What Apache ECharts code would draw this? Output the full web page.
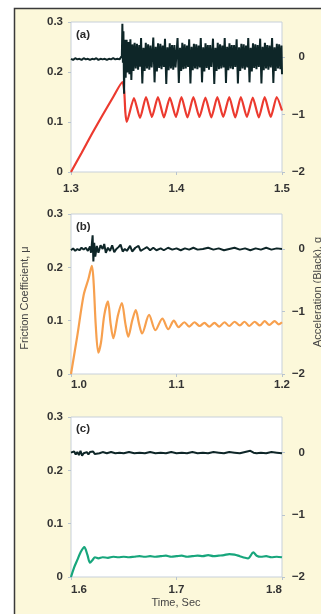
<!DOCTYPE html>
<html><head><meta charset="utf-8">
<script src="https://cdn.jsdelivr.net/npm/echarts@6.0.0/dist/echarts.min.js"></script>
<style>html,body{margin:0;padding:0;background:#fff}#c{width:321px;height:614px}</style>
</head><body><div id="c"></div>
<script>
// ---------- data ----------
const panelLabels = ['(a)', '(b)', '(c)'];
const xRanges = [[1.3, 1.5], [1.0, 1.2], [1.6, 1.8]];
const frictionTicks = [0, 0.1, 0.2, 0.3];
const accelTicks = [-2, -1, 0];
const leftName = 'Friction Coefficient, μ';
const rightName = 'Acceleration (Black), g';
const timeName = 'Time, Sec';

// panel (a) friction (red)
const frictionA = [[1.3,0],[1.31,0.038],[1.32,0.077],[1.33,0.114],[1.34,0.15],[1.3488,0.18],[1.3505,0.16],[1.3515,0.12],[1.3528,0.100],
[1.3597,0.148],[1.3654,0.108],[1.3711,0.150],[1.3767,0.110],[1.3824,0.150],[1.3881,0.109],[1.3937,0.149],[1.3994,0.110],
[1.4047,0.150],[1.4104,0.109],[1.4160,0.150],[1.4217,0.110],[1.4274,0.149],[1.4330,0.109],[1.4387,0.150],[1.4443,0.110],
[1.4500,0.150],[1.4557,0.109],[1.4610,0.150],[1.4667,0.110],[1.4723,0.149],[1.4780,0.109],[1.4836,0.150],[1.4893,0.110],
[1.4950,0.150],[1.5,0.123]];

// panel (a) acceleration (black)
const accelA = [[1.300,-0.03],[1.302,-0.05],[1.304,-0.02],[1.306,-0.04],[1.308,-0.03],[1.310,-0.05],[1.312,-0.02],[1.314,-0.04],
[1.316,-0.03],[1.318,-0.05],[1.320,-0.03],[1.322,-0.04],[1.324,-0.02],[1.326,-0.05],[1.328,-0.03],[1.330,-0.04],[1.332,-0.03],
[1.334,-0.05],[1.336,-0.03],[1.338,-0.04],[1.340,-0.02],[1.342,-0.04],[1.344,-0.03],[1.346,-0.04],[1.3472,-0.03],[1.3482,0.02],
[1.3487,0.58],[1.3492,-0.1],[1.3497,0.45],[1.3503,-0.64],[1.3510,0.3],[1.3518,-0.36],[1.3527,0.3],[1.3536,-0.27],[1.3545,0.26],
[1.3554,-0.3],[1.3563,0.31],[1.3572,-0.4],[1.3582,0.22],[1.3592,-0.24],[1.3603,0.25],[1.3614,-0.2],[1.3625,0.23],[1.3636,-0.22],
[1.3647,0.21],[1.3656,-0.17],
[1.3664,0.33],[1.3676,-0.46],[1.3687,0.16],[1.3698,-0.24],[1.3709,0.25],[1.3720,-0.2],[1.3731,0.22],[1.3742,-0.22],[1.3753,0.2],[1.3764,-0.18],
[1.3780,0.34],[1.3792,-0.44],[1.3803,0.18],[1.3814,-0.25],[1.3825,0.24],[1.3836,-0.19],[1.3847,0.23],[1.3858,-0.21],[1.3869,0.2],[1.3880,-0.17],
[1.3891,0.32],[1.3903,-0.47],[1.3914,0.17],[1.3925,-0.23],[1.3936,0.24],[1.3947,-0.2],[1.3958,0.21],[1.3969,-0.22],[1.3980,0.21],[1.3991,-0.18],
[1.4010,0.33],[1.4022,-0.45],[1.4033,0.16],[1.4044,-0.24],[1.4055,0.25],[1.4066,-0.21],[1.4077,0.22],[1.4088,-0.2],[1.4099,0.2],[1.4110,-0.17],
[1.4120,0.31],[1.4132,-0.46],[1.4143,0.18],[1.4154,-0.23],[1.4165,0.23],[1.4176,-0.2],[1.4187,0.22],[1.4198,-0.21],[1.4209,0.2],[1.4220,-0.18],
[1.4230,0.33],[1.4242,-0.44],[1.4253,0.17],[1.4264,-0.25],[1.4275,0.24],[1.4286,-0.19],[1.4297,0.21],[1.4308,-0.22],[1.4319,0.21],[1.4330,-0.17],
[1.4346,0.32],[1.4358,-0.47],[1.4369,0.16],[1.4380,-0.24],[1.4391,0.25],[1.4402,-0.21],[1.4413,0.22],[1.4424,-0.2],[1.4435,0.2],[1.4446,-0.18],
[1.4457,0.33],[1.4469,-0.45],[1.4480,0.18],[1.4491,-0.23],[1.4502,0.24],[1.4513,-0.2],[1.4524,0.21],[1.4535,-0.21],[1.4546,0.21],[1.4557,-0.17],
[1.4570,0.31],[1.4582,-0.46],[1.4593,0.17],[1.4604,-0.24],[1.4615,0.23],[1.4626,-0.2],[1.4637,0.22],[1.4648,-0.22],[1.4659,0.2],[1.4670,-0.18],
[1.4680,0.33],[1.4692,-0.44],[1.4703,0.16],[1.4714,-0.25],[1.4725,0.24],[1.4736,-0.19],[1.4747,0.22],[1.4758,-0.21],[1.4769,0.21],[1.4780,-0.17],
[1.4793,0.32],[1.4805,-0.46],[1.4816,0.18],[1.4827,-0.23],[1.4838,0.25],[1.4849,-0.2],[1.4860,0.21],[1.4871,-0.22],[1.4882,0.2],[1.4893,-0.18],
[1.4906,0.33],[1.4918,-0.45],[1.4929,0.17],[1.4940,-0.24],[1.4951,0.23],[1.4962,-0.2],[1.4973,0.22],[1.4984,-0.21],[1.4995,0.2],[1.5000,-0.3]];

// panel (b) friction (orange)
const frictionB = [[1.0,0],[1.006,0.072],[1.012,0.148],[1.0165,0.178],[1.0198,0.203],[1.0215,0.17],[1.0235,0.09],[1.0259,0.040],
[1.0285,0.06],[1.0315,0.11],[1.0350,0.136],[1.0375,0.095],[1.0401,0.067],[1.0445,0.11],[1.0482,0.133],[1.0515,0.095],[1.0543,0.070],
[1.0580,0.10],[1.0614,0.120],[1.0645,0.094],[1.0674,0.076],[1.0740,0.111],[1.0800,0.082],[1.0866,0.104],[1.0922,0.084],[1.0975,0.100],
[1.1020,0.088],[1.1075,0.097],[1.1120,0.089],[1.1170,0.097],[1.1220,0.090],[1.1265,0.096],[1.1310,0.089],[1.1360,0.096],[1.1405,0.089],
[1.1455,0.097],[1.1500,0.090],[1.1550,0.098],[1.1600,0.091],[1.1645,0.098],[1.1690,0.090],[1.1740,0.098],[1.1790,0.091],[1.1835,0.099],
[1.1880,0.092],[1.1930,0.099],[1.1970,0.093],[1.2,0.097]];

// panel (b) acceleration (black)
const accelB = [[1.0,-0.02],[1.002,0.01],[1.004,-0.03],[1.006,0.0],[1.008,-0.02],[1.010,0.02],[1.012,-0.01],[1.014,0.02],[1.016,-0.03],
[1.018,0.04],[1.019,-0.06],[1.0205,0.22],[1.0212,-0.2],[1.022,0.1],[1.023,-0.12],[1.0245,0.05],[1.026,-0.06],[1.028,0.06],[1.030,0.0],
[1.0315,0.08],[1.033,-0.06],[1.035,0.02],[1.037,-0.03],[1.039,0.06],[1.041,-0.05],[1.043,0.0],[1.045,0.03],[1.047,0.07],[1.049,-0.04],
[1.051,0.0],[1.053,-0.03],[1.056,0.05],[1.058,-0.04],[1.061,0.02],[1.064,0.05],[1.066,-0.03],[1.069,0.0],[1.072,0.03],[1.075,-0.02],
[1.078,0.02],[1.081,-0.02],[1.085,0.01],[1.088,-0.02],[1.092,0.02],[1.096,-0.01],[1.100,0.01],[1.104,-0.02],[1.108,0.01],[1.112,-0.01],
[1.116,0.02],[1.120,-0.01],[1.125,0.0],[1.13,0.02],[1.135,-0.01],[1.14,0.01],[1.145,-0.02],[1.15,0.0],[1.155,0.02],[1.16,-0.01],
[1.165,0.01],[1.17,-0.02],[1.175,0.01],[1.18,-0.01],[1.185,0.02],[1.19,-0.01],[1.195,0.01],[1.2,0.0]];

// panel (c) friction (green)
const frictionC = [[1.6,0],[1.603,0.018],[1.606,0.032],[1.609,0.046],[1.6126,0.056],[1.6155,0.042],[1.618,0.027],[1.6205,0.032],
[1.6227,0.037],[1.626,0.035],[1.63,0.037],[1.635,0.036],[1.64,0.038],[1.645,0.037],[1.65,0.038],[1.655,0.037],[1.66,0.038],
[1.665,0.039],[1.67,0.038],[1.675,0.039],[1.68,0.038],[1.685,0.039],[1.69,0.040],[1.695,0.038],[1.70,0.039],[1.705,0.040],
[1.71,0.038],[1.715,0.039],[1.72,0.040],[1.725,0.039],[1.73,0.041],[1.735,0.039],[1.74,0.040],[1.745,0.041],[1.75,0.043],
[1.755,0.042],[1.76,0.039],[1.765,0.036],[1.768,0.035],[1.7728,0.046],[1.776,0.040],[1.78,0.038],[1.785,0.039],[1.79,0.037],
[1.795,0.038],[1.8,0.037]];

// panel (c) acceleration (black)
const accelC = [[1.600,0.0],[1.6015,-0.02],[1.603,0.02],[1.6045,-0.03],[1.606,0.01],[1.6075,-0.04],[1.609,0.03],[1.6105,-0.05],
[1.612,-0.01],[1.6135,-0.04],[1.615,0.01],[1.6165,-0.03],[1.618,0.01],[1.6195,-0.02],[1.621,0.02],[1.6225,-0.02],[1.624,0.01],
[1.627,-0.01],[1.630,0.01],[1.634,-0.01],[1.638,0.01],[1.642,-0.01],[1.646,0.0],[1.650,-0.01],[1.655,0.01],[1.660,-0.01],
[1.665,0.0],[1.670,-0.01],[1.675,0.01],[1.680,-0.01],[1.685,0.0],[1.690,-0.01],[1.695,0.01],[1.700,-0.01],[1.705,0.0],
[1.710,-0.01],[1.715,0.01],[1.720,-0.01],[1.725,0.0],[1.730,-0.01],[1.735,0.01],[1.740,0.0],[1.745,-0.01],[1.750,0.01],
[1.755,0.0],[1.760,-0.01],[1.765,0.01],[1.770,0.03],[1.773,0.0],[1.776,-0.01],[1.780,0.0],[1.785,-0.01],[1.790,0.01],
[1.795,0.0],[1.800,-0.01]];

// ---------- layout / style ----------
const grids = [
  {left: 71, top: 22, width: 211, height: 150},
  {left: 71, top: 214, width: 211, height: 160},
  {left: 71, top: 417, width: 211, height: 160}
];
const rightMax = [0.61, 0.56, 0.574];
const xLabelMargin = [11, 5, 7];
const frictionColors = ['#ec3a2f', '#f7a04e', '#17a67c'];
const blackColor = '#0e2628';
const txt = '#333333';
const ff = '"Liberation Sans", Arial, Helvetica, sans-serif';
const lblFont = {color: txt, fontWeight: 'bold', fontSize: 11.5, fontFamily: ff};

const chart = echarts.init(document.getElementById('c'), null, {renderer: 'canvas'});

const gridOpt = grids.map(g => Object.assign({
  show: true, backgroundColor: '#ffffff', borderColor: '#c7d0da', borderWidth: 1,
  containLabel: false, outerBoundsMode: 'none'
}, g));

const xAxes = xRanges.map((r, i) => ({
  type: 'value', gridIndex: i, min: r[0], max: r[1], interval: 0.1,
  axisLine: {show: false},
  axisTick: {show: true, length: 3, lineStyle: {color: '#b9c4cf'}},
  splitLine: {show: false},
  axisLabel: Object.assign({
    margin: xLabelMargin[i],
    alignMinLabel: i === 0 ? 'center' : 'left',
    alignMaxLabel: i === 2 ? 'right' : 'center',
    formatter: v => v.toFixed(1)
  }, lblFont)
}));

const yAxes = [];
grids.forEach((g, i) => {
  yAxes.push({
    type: 'value', gridIndex: i, position: 'left',
    min: frictionTicks[0], max: frictionTicks[frictionTicks.length - 1], interval: 0.1,
    axisLine: {show: false},
    axisTick: {show: true, length: 3, lineStyle: {color: '#b9c4cf'}},
    splitLine: {show: false},
    axisLabel: Object.assign({margin: 8, formatter: v => (Math.abs(v) < 1e-9 ? '0' : v.toFixed(1))}, lblFont)
  });
  yAxes.push({
    type: 'value', gridIndex: i, position: 'right',
    min: accelTicks[0], max: rightMax[i], interval: 1,
    axisLine: {show: false},
    axisTick: {show: true, length: 3, lineStyle: {color: '#b9c4cf'}},
    splitLine: {show: false},
    axisLabel: Object.assign({
      margin: 23, align: 'right', showMaxLabel: false,
      formatter: v => {
        const r = Math.round(v);
        if (Math.abs(v - r) > 1e-6 || accelTicks.indexOf(r) < 0) return '';
        return r < 0 ? '\u2212' + Math.abs(r) : String(r);
      }
    }, lblFont)
  });
});

const frictionData = [frictionA, frictionB, frictionC];
const accelData = [accelA, accelB, accelC];
const series = [];
grids.forEach((g, i) => {
  series.push({
    type: 'line', xAxisIndex: i, yAxisIndex: 2 * i, data: frictionData[i],
    showSymbol: false, smooth: i === 0 ? 0.2 : 0.3, clip: true,
    lineStyle: {color: frictionColors[i], width: 2.2}, itemStyle: {color: frictionColors[i]}
  });
  series.push({
    type: 'line', xAxisIndex: i, yAxisIndex: 2 * i + 1, data: accelData[i],
    showSymbol: false, smooth: false, clip: true,
    lineStyle: {color: blackColor, width: i === 0 ? 2 : 2}, itemStyle: {color: blackColor}
  });
});

const graphics = [
  {type: 'rect', z: -100, silent: true, shape: {x: 14.5, y: 8.5, width: 420, height: 720},
   style: {fill: '#fcf8da', stroke: '#3a3a3a', lineWidth: 1.5}}
];
const labelPos = [[76, 35], [76, 227], [76, 429]];
panelLabels.forEach((t, i) => {
  graphics.push({type: 'text', x: labelPos[i][0], y: labelPos[i][1], z: 50,
    style: {text: t, fill: '#2a2a2a', font: 'bold 11.5px ' + ff, textAlign: 'left', align: 'left',
      textVerticalAlign: 'middle', verticalAlign: 'middle'}});
});
graphics.push({type: 'text', x: 25, y: 298, rotation: Math.PI / 2,
  style: {text: leftName, fill: '#444', font: '11px ' + ff, textAlign: 'center', align: 'center',
    textVerticalAlign: 'middle', verticalAlign: 'middle'}});
graphics.push({type: 'text', x: 318, y: 292, rotation: Math.PI / 2,
  style: {text: rightName, fill: '#444', font: '11px ' + ff, textAlign: 'center', align: 'center',
    textVerticalAlign: 'middle', verticalAlign: 'middle'}});
graphics.push({type: 'text', x: 176, y: 603,
  style: {text: timeName, fill: '#444', font: '11px ' + ff, textAlign: 'center', align: 'center',
    textVerticalAlign: 'middle', verticalAlign: 'middle'}});

chart.setOption({
  animation: false,
  backgroundColor: '#ffffff',
  grid: gridOpt,
  xAxis: xAxes,
  yAxis: yAxes,
  series: series,
  graphic: {elements: graphics}
});
</script></body></html>
